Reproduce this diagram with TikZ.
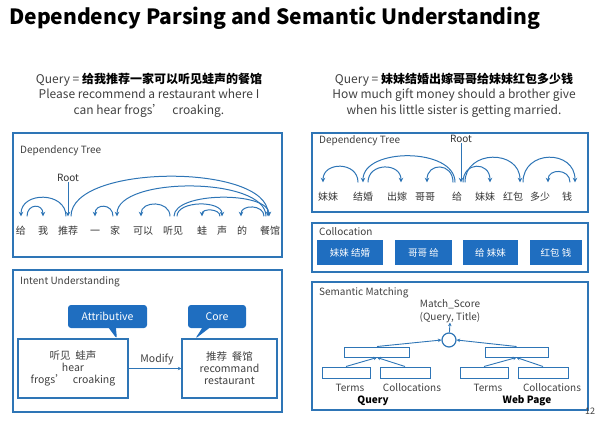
\documentclass[tikz,border=0pt]{standalone}
\usepackage{fontspec}
\setmainfont{Noto Sans CJK SC}
\usetikzlibrary{positioning, arrows.meta, shapes.callouts}
\definecolor{boxblue}{HTML}{2E75B6}
\definecolor{fillblue}{HTML}{1F6EC0}
\definecolor{textgray}{HTML}{404040}

\begin{document}
\begin{tikzpicture}[x=1pt, y=-1pt,
		panel/.style={draw=boxblue, line width=1.3pt},
		tag/.style={anchor=west, font=\fontsize{10}{12}\selectfont, text=textgray, inner sep=0pt},
		word/.style={font=\fontsize{10}{12}\selectfont, text=black!80, text height=8pt, text depth=1pt, inner xsep=0pt, inner ysep=10pt},
		dep/.style={draw=boxblue, line width=1pt, -{Stealth[length=4.5pt,width=4.5pt]}},
		colloc/.style={fill=fillblue, text=white, minimum height=25pt, inner sep=0pt, font=\fontsize{9.5}{11}\selectfont},
		callbox/.style={rectangle callout, rounded corners=3pt, fill=fillblue, text=white, minimum height=23pt, inner sep=0pt, font=\fontsize{10.5}{12}\selectfont},
		intent/.style={draw=boxblue, line width=1.2pt, minimum height=59pt, align=center, text=textgray, font=\fontsize{10.5}{12}\selectfont},
		cell/.style={draw=boxblue, line width=1pt, inner sep=0pt},
		flow/.style={draw=boxblue, line width=0.9pt, -{Stealth[length=3.5pt,width=3.5pt]}},
		caption/.style={text=textgray, inner sep=0pt, font=\fontsize{10}{12}\selectfont}, >=Stealth]

		\useasboundingbox (0,0) rectangle (600,421);

		\node[anchor=west, inner sep=0pt, font=\bfseries\fontsize{21}{24}\selectfont] (title) at (9,18) {Dependency Parsing and Semantic Understanding};

		% queries
		\node[align=center, text=textgray, font=\fontsize{12}{15.5}\selectfont] (query1) at (149,95)
		{Query = \textcolor{black}{\bfseries 给我推荐一家可以听见蛙声的餐馆}\\ Please recommend a restaurant where I\\ can hear frogs’\ \ \ croaking.};
		\node[align=center, text=textgray, font=\fontsize{12}{15.5}\selectfont] (query2) at (454,95)
		{Query = \textcolor{black}{\bfseries 妹妹结婚出嫁哥哥给妹妹红包多少钱}\\ How much gift money should a brother give\\ when his little sister is getting married.};

		% panels
		\draw[panel] (13,133) rectangle (282,257);
		\draw[panel] (13,270) rectangle (282,412);
		\draw[panel] (312,133) rectangle (588,212);
		\draw[panel] (312,223) rectangle (588,272);
		\draw[panel] (312,282) rectangle (588,410);

		\node[tag] (ldeptag) at (20,151) {Dependency Tree};
		\node[tag] (intenttag) at (20,282) {Intent Understanding};
		\node[tag] (rdeptag) at (319,141) {Dependency Tree};
		\node[tag] (colltag) at (319,232) {Collocation};
		\node[tag] (semtag) at (319,293) {Semantic Matching};

		% left dependency tree
		\node[word] at (21,231)  (lw1) {给};
		\node[word] at (43,231)  (lw2) {我};
		\node[word] at (68,231)  (lw3) {推荐};
		\node[word] at (95,231)  (lw4) {一};
		\node[word] at (115,231) (lw5) {家};
		\node[word] at (143,231) (lw6) {可以};
		\node[word] at (173,231) (lw7) {听见};
		\node[word] at (202,231) (lw8) {蛙};
		\node[word] at (222,231) (lw9) {声};
		\node[word] at (242,231) (lw10) {的};
		\node[word] at (270,231) (lw11) {餐馆};

		\node[caption, text=black!80] (lroot) at (68,178) {Root};
		\draw[dep] (lroot) -- (lw3.north);

		\draw[dep] ([xshift=-2pt]lw3.north) .. controls +(0,-25) and +(0,-25) .. (lw1.north);
		\draw[dep] ([xshift=6pt]lw1.north) .. controls +(0,-13) and +(0,-13) .. (lw2.north);
		\draw[dep] ([xshift=3pt]lw3.north) .. controls +(0,-53) and +(0,-53) .. ([xshift=-2pt]lw11.north);
		\draw[dep] ([xshift=-2pt]lw5.north) .. controls +(0,-13) and +(0,-13) .. (lw4.north);
		\draw[dep] ([xshift=-4pt]lw11.north) .. controls +(0,-40) and +(0,-40) .. ([xshift=2pt]lw5.north);
		\draw[dep] ([xshift=-3pt]lw7.north) .. controls +(0,-16) and +(0,-16) .. ([xshift=-2pt]lw6.north);
		\draw[dep] ([xshift=1pt]lw7.north) .. controls +(0,-25) and +(0,-25) .. ([xshift=-1pt]lw11.north);
		\draw[dep] ([xshift=4pt]lw7.north) .. controls +(0,-16) and +(0,-16) .. (lw9.north);
		\draw[dep] ([xshift=-2pt]lw9.north) .. controls +(0,-8) and +(0,-8) .. (lw8.north);
		\draw[dep] ([xshift=-6pt]lw11.north) .. controls +(0,-12) and +(0,-12) .. ([xshift=-1pt]lw10.north);

		% right dependency tree
		\node[word] at (328,197) (rw1) {妹妹};
		\node[word] at (363,197) (rw2) {结婚};
		\node[word] at (397,197) (rw3) {出嫁};
		\node[word] at (425,197) (rw4) {哥哥};
		\node[word] at (457,197) (rw5) {给};
		\node[word] at (485,197) (rw6) {妹妹};
		\node[word] at (513,197) (rw7) {红包};
		\node[word] at (540,197) (rw8) {多少};
		\node[word] at (567,197) (rw9) {钱};

		\node[caption, text=black!80] (rroot) at (461,139) {Root};
		\draw[dep] (rroot) -- ([xshift=4pt]rw5.north);

		\draw[dep] ([xshift=-5pt]rw2.north) .. controls +(0,-21) and +(0,-21) .. ([xshift=-5pt]rw1.north);
		\draw[dep] ([xshift=5pt]rw2.north) .. controls +(0,-20) and +(0,-20) .. ([xshift=4pt]rw3.north);
		\draw[dep] ([xshift=-2pt]rw5.north) .. controls +(0,-35) and +(0,-35) .. (rw2.north);
		\draw[dep] ([xshift=-4pt]rw5.north) .. controls +(0,-20) and +(0,-20) .. ([xshift=2pt]rw4.north);
		\draw[dep] ([xshift=6pt]rw5.north) .. controls +(0,-21) and +(0,-21) .. ([xshift=5pt]rw6.north);
		\draw[dep] ([xshift=8pt]rw5.north) .. controls +(0,-33) and +(0,-33) .. ([xshift=7pt]rw7.north);
		\draw[dep] ([xshift=10pt]rw7.north) .. controls +(0,-33) and +(0,-33) .. ([xshift=8pt]rw9.north);
		\draw[dep] ([xshift=3pt]rw9.north) .. controls +(0,-14) and +(0,-14) .. ([xshift=8pt]rw8.north);

		% collocations
		\node[colloc, minimum width=66pt] (coll1) at (350,252.5) {妹妹 结婚};
		\node[colloc, minimum width=57pt] (coll2) at (423.5,252.5) {哥哥 给};
		\node[colloc, minimum width=55pt] (coll3) at (490.5,252.5) {给 妹妹};
		\node[colloc, minimum width=52pt] (coll4) at (556,252.5) {红包 钱};

		% intent understanding
		\node[intent, minimum width=110pt] (hearbox) at (73,368.5) {听见\ \ 蛙声\\ hear\\ frogs’\ \ \ croaking};
		\node[intent, minimum width=95pt] (corebox) at (229.5,368.5) {推荐\ \ 餐馆\\ recommand\\ restaurant};
		\draw[flow] (hearbox) -- (corebox);
		\node[caption, font=\fontsize{10.5}{12}\selectfont] (modify) at (157,359) {Modify};

		\node[callbox, minimum width=79pt, callout absolute pointer={(117,339)}] (attrib) at (107.5,316.5) {Attributive};
		\node[callbox, minimum width=58pt, callout absolute pointer={(195,339)}] (core) at (217,316.5) {Core};

		% semantic matching
		\node[draw=boxblue, line width=1.2pt, circle, minimum size=14pt, inner sep=0pt] (score) at (449,340) {};
		\node[caption, align=center, font=\fontsize{10}{12.5}\selectfont] (scorelbl) at (450,311) {Match\_Score\\ (Query, Title)};
		\draw[flow] (score) -- (scorelbl.south);

		\node[cell, minimum width=65pt, minimum height=10pt] (qtop) at (377,352) {};
		\node[cell, minimum width=48pt, minimum height=11pt] (qterm) at (346,372.5) {};
		\node[cell, minimum width=50pt, minimum height=11pt] (qcoll) at (405,372.5) {};
		\node[cell, minimum width=63pt, minimum height=10pt] (wtop) at (516.5,352) {};
		\node[cell, minimum width=48pt, minimum height=11pt] (wterm) at (484,372.5) {};
		\node[cell, minimum width=50pt, minimum height=11pt] (wcoll) at (543,372.5) {};

		\draw[flow] (qterm.north) -- (qtop.south);
		\draw[flow] (qcoll.north) -- (qtop.south);
		\draw[flow] (wterm.north) -- (wtop.south);
		\draw[flow] (wcoll.north) -- (wtop.south);
		\draw[flow] (qtop.north) -- (score.west);
		\draw[flow] (wtop.north) -- (score.east);

		\node[caption] (qtermlbl) at (350,388) {Terms};
		\node[caption] (qcolllbl) at (412,388) {Collocations};
		\node[caption, text=black, font=\bfseries\fontsize{10}{12}\selectfont] (qlbl) at (373,401) {Query};
		\node[caption] (wtermlbl) at (488,388) {Terms};
		\node[caption] (wcolllbl) at (552,388) {Collocations};
		\node[caption, text=black, font=\bfseries\fontsize{10}{12}\selectfont] (wlbl) at (527,401) {Web Page};

		\node[caption, font=\fontsize{9}{10}\selectfont] (pageno) at (590,411) {12};
	\end{tikzpicture}
\end{document}
